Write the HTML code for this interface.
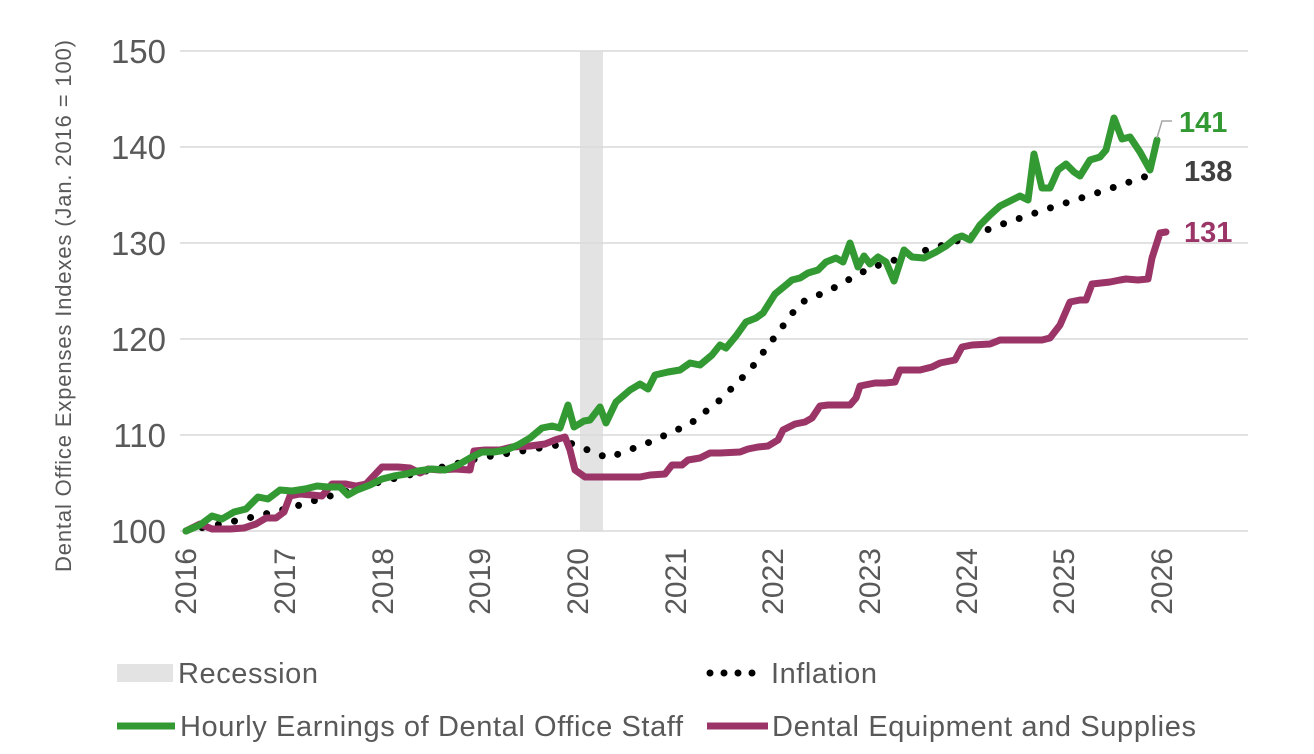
<!DOCTYPE html>
<html><head><meta charset="utf-8"><style>
body{margin:0;background:#fff;}
svg{display:block;font-family:"Liberation Sans",sans-serif;}
</style></head><body>
<svg width="1314" height="754" viewBox="0 0 1314 754">
<rect x="580" y="51" width="23" height="480" fill="#e3e3e3"/>
<g stroke="#d9d9d9" stroke-width="1.5">
<line x1="180" x2="1248" y1="51" y2="51"/><line x1="180" x2="1248" y1="147" y2="147"/>
<line x1="180" x2="1248" y1="243" y2="243"/><line x1="180" x2="1248" y1="339" y2="339"/>
<line x1="180" x2="1248" y1="435" y2="435"/><line x1="180" x2="1248" y1="531" y2="531"/>
</g>
<g fill="#595959" font-size="33" text-anchor="end">
<text x="166" y="63">150</text><text x="166" y="159">140</text><text x="166" y="255">130</text>
<text x="166" y="351">120</text><text x="166" y="447">110</text><text x="166" y="543">100</text>
</g>
<text transform="translate(71,306) rotate(-90)" text-anchor="middle" font-size="22" fill="#595959" textLength="532">Dental Office Expenses Indexes (Jan. 2016 = 100)</text>
<g fill="#595959" font-size="30" text-anchor="end">
<text transform="translate(196,548) rotate(-90)">2016</text>
<text transform="translate(295,548) rotate(-90)">2017</text>
<text transform="translate(393,548) rotate(-90)">2018</text>
<text transform="translate(490,548) rotate(-90)">2019</text>
<text transform="translate(588,548) rotate(-90)">2020</text>
<text transform="translate(686,548) rotate(-90)">2021</text>
<text transform="translate(783,548) rotate(-90)">2022</text>
<text transform="translate(880,548) rotate(-90)">2023</text>
<text transform="translate(977,548) rotate(-90)">2024</text>
<text transform="translate(1074,548) rotate(-90)">2025</text>
<text transform="translate(1172,548) rotate(-90)">2026</text>
</g>
<polyline fill="none" stroke="#000" stroke-width="7" stroke-linecap="round" stroke-dasharray="0 16.5" points="186,531 240,520 290,508 340,493 380,482 430,470 480,458 540,448 570,443 608,458 650,442 690,424 720,400 750,370 780,330 800,303 830,290 870,268 920,252 960,240 1000,225 1050,208 1100,192 1150,175"/>
<polyline fill="none" stroke="#9b3568" stroke-width="7" stroke-linejoin="round" stroke-linecap="round" points="186,531 200,524 212,529 230,529 244,528 256,524 266,518 276,518 284,512 290,496 300,494 312,495 322,496 332,484 346,484 356,486 366,484 382,467 398,467 410,468 420,473 428,469 440,470 455,469 470,470 474,451 485,450 500,450 512,447 530,446 545,444 555,440 565,437 570,450 575,470 585,477 620,477 640,477 650,475 665,474 672,465 682,465 688,460 700,458 710,453 720,453 740,452 748,449 758,447 768,446 778,440 783,430 795,424 805,422 812,418 820,406 828,405 840,405 850,405 856,398 860,386 875,383 885,383 895,382 900,370 920,370 932,367 940,363 955,360 962,347 972,345 990,344 1000,340 1030,340 1042,340 1050,338 1060,325 1070,302 1080,300 1086,300 1092,284 1110,282 1120,280 1126,279 1138,280 1148,279 1152,258 1160,233 1166,232"/>
<polyline fill="none" stroke="#339933" stroke-width="7" stroke-linejoin="round" stroke-linecap="round" points="186,531 200,525 212,516 222,519 234,512 246,509 258,497 268,499 280,490 292,491 305,489 317,486 328,487 340,487 348,495 357,490 370,485 382,479 394,476 406,474 418,471 432,469 445,470 458,465 470,458 482,452 494,452 506,450 518,445 530,438 542,428 552,426 560,428 568,405 574,427 584,421 590,420 600,407 606,423 616,402 630,390 640,384 648,389 655,375 668,372 680,370 690,363 700,365 712,355 720,345 726,348 736,336 746,322 756,318 763,313 775,294 786,285 792,280 800,278 808,273 818,270 826,262 836,258 843,262 850,243 858,267 864,256 870,264 878,257 886,262 894,281 904,250 912,257 924,258 936,252 946,246 956,238 962,236 970,240 980,225 990,215 1000,206 1012,200 1020,196 1028,200 1034,154 1042,188 1050,188 1058,170 1066,164 1074,172 1080,176 1090,160 1100,157 1106,150 1114,118 1122,139 1130,137 1140,152 1150,170 1157,140"/>
<polyline fill="none" stroke="#a6a6a6" stroke-width="1.5" points="1157,138 1162,121 1172,121"/>
<g font-size="29" font-weight="bold">
<text x="1179" y="132" fill="#339933">141</text>
<text x="1184" y="181" fill="#404040">138</text>
<text x="1184" y="242" fill="#9b3568">131</text>
</g>
<rect x="117" y="664" width="56" height="18" fill="#e3e3e3"/>
<text x="178" y="683" font-size="29" fill="#595959" textLength="140">Recession</text>
<line x1="710" x2="766" y1="673" y2="673" stroke="#000" stroke-width="7" stroke-linecap="round" stroke-dasharray="0 14"/>
<text x="771" y="683" font-size="29" fill="#595959" textLength="106">Inflation</text>
<line x1="117" x2="175" y1="726" y2="726" stroke="#339933" stroke-width="7"/>
<text x="180" y="736" font-size="29" fill="#595959" textLength="503">Hourly Earnings of Dental Office Staff</text>
<line x1="707" x2="768" y1="726" y2="726" stroke="#9b3568" stroke-width="7"/>
<text x="772" y="736" font-size="29" fill="#595959" textLength="424">Dental Equipment and Supplies</text>
</svg>
</body></html>
